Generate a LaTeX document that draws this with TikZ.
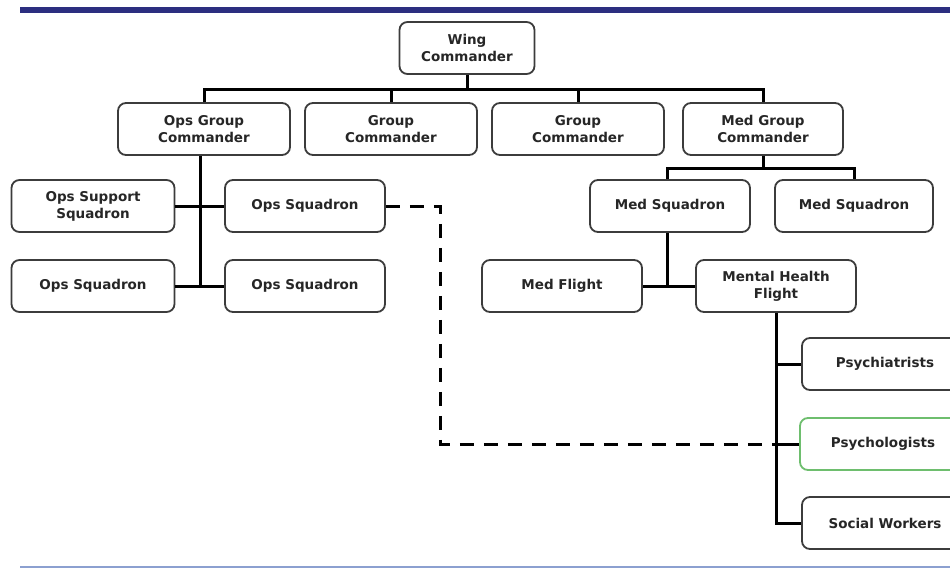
\documentclass[tikz,border=0pt]{standalone}
\usepackage{fontspec}
\setmainfont{DejaVu Sans}
\usepackage{tikz}
\definecolor{barblue}{RGB}{44,46,128}
\definecolor{lineblue}{RGB}{140,160,208}
\definecolor{boxgray}{RGB}{60,60,60}
\definecolor{boxgreen}{RGB}{110,190,110}

\begin{document}
\begin{tikzpicture}[x=1pt,y=-1pt]
	\useasboundingbox (0,0) rectangle (950,571);
	\tikzstyle{unit}=[rectangle,rounded corners=8pt,draw=boxgray,line width=1.8pt,fill=white,
		minimum width=160pt,minimum height=52pt,align=center,inner sep=2pt,
		font=\fontsize{13.5}{17}\selectfont\bfseries,text=black!85]
	\tikzstyle{wide}=[unit,minimum width=172pt]
	\tikzstyle{link}=[line width=3pt,black]
	\tikzstyle{dotted link}=[line width=3pt,black,dash pattern=on 14pt off 10pt]
	% rules top and bottom
	\fill[barblue] (20,7) rectangle (950,13);
	\draw[lineblue,line width=1.4pt] (20,567) -- (950,567);
	% nodes
	\node[unit,minimum width=135pt](wing) at (467,48) {Wing\\Commander};
	\node[wide](opsgrp) at (204,129) {Ops Group\\Commander};
	\node[wide](grp1) at (391,129) {Group\\Commander};
	\node[wide](grp2) at (578,129) {Group\\Commander};
	\node[unit](medgrp) at (763,129) {Med Group\\Commander};
	\node[unit,minimum width=163pt](opssup) at (93,206) {Ops Support\\Squadron};
	\node[unit](opssq1) at (305,206) {Ops Squadron};
	\node[unit,minimum width=163pt](opssq2) at (93,286) {Ops Squadron};
	\node[unit](opssq3) at (305,286) {Ops Squadron};
	\node[unit](medsq1) at (670,206) {Med Squadron};
	\node[unit,minimum width=158pt](medsq2) at (854,206) {Med Squadron};
	\node[unit](medfl) at (562,286) {Med Flight};
	\node[unit](mhf) at (776,286) {Mental Health\\Flight};
	\node[unit,minimum width=166pt](psychi) at (885,364) {Psychiatrists};
	\node[unit,minimum width=166pt,draw=boxgreen](psychol) at (883,444) {Psychologists};
	\node[unit,minimum width=166pt](socw) at (885,523) {Social Workers};
	\coordinate (wbar) at (467,89);
	\coordinate (mbar) at (763,168);
	\coordinate (dk) at (440,444);
	% connectors
	\draw[link](wing) -- (wbar);
	\draw[link](opsgrp.north) |- (wbar);
	\draw[link](grp1.north) |- (wbar);
	\draw[link](grp2.north) |- (wbar);
	\draw[link](medgrp.north) |- (wbar);
	\draw[link]([xshift=-4pt]opsgrp.south) -- ([xshift=-4pt]opsgrp.south |- opssq2);
	\draw[link](opssup.east) -- (opssq1.west);
	\draw[link](opssq2.east) -- (opssq3.west);
	\draw[link](medgrp.south) -- (mbar);
	\draw[link]([xshift=-3pt]medsq1.north) |- (mbar);
	\draw[link](medsq2.north) |- (mbar);
	\draw[link]([xshift=-3pt]medsq1.south) -- ([xshift=-3pt]medsq1.south |- medfl);
	\draw[link](medfl.east) -- (mhf.west);
	\draw[link](mhf.south) |- (socw.west);
	\draw[link](psychi.west) -- (psychi.west -| mhf.south);
	\draw[link](psychol.west) -- (psychol.west -| mhf.south);
	\draw[dotted link](opssq1.east) -| (dk) -- (dk -| mhf.south);
\end{tikzpicture}
\end{document}
